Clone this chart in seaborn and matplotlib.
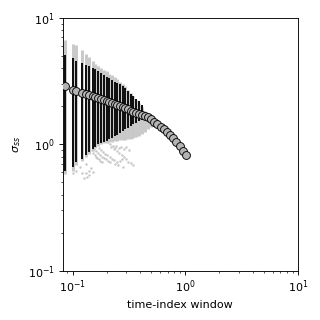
import numpy as np
import pandas as pd
import matplotlib
matplotlib.use("Agg")
import matplotlib.pyplot as plt
import seaborn as sns

# --- data ---
window = [0.0856, 0.1000, 0.1062, 0.1214, 0.1308, 0.1410, 0.1507, 0.1591, 0.1690, 0.1781,
          0.1893, 0.2000, 0.2124, 0.2244, 0.2369, 0.2501, 0.2642, 0.2790, 0.2946, 0.3112,
          0.3286, 0.3470, 0.3665, 0.3870, 0.4104, 0.4377, 0.4670, 0.4981, 0.5314, 0.5667,
          0.6046, 0.6450, 0.6881, 0.7340, 0.7830, 0.8355, 0.8913, 0.9508, 1.014]
sigma = [2.87, 2.71, 2.66, 2.56, 2.51, 2.46, 2.41, 2.37, 2.33, 2.30,
         2.25, 2.21, 2.16, 2.12, 2.08, 2.05, 2.01, 1.97, 1.93, 1.89,
         1.85, 1.81, 1.78, 1.74, 1.71, 1.67, 1.64, 1.59, 1.51, 1.44,
         1.38, 1.31, 1.25, 1.18, 1.12, 1.04, 0.97, 0.89, 0.83]

# black interval bars (first 25 windows)
bar_hi = [5.09, 4.79, 4.58, 4.42, 4.28, 4.16, 4.03, 3.93, 3.80, 3.66,
          3.53, 3.43, 3.33, 3.23, 3.14, 3.07, 2.98, 2.88, 2.77, 2.63,
          2.52, 2.40, 2.30, 2.20, 2.06]
bar_lo = [0.61, 0.66, 0.72, 0.77, 0.82, 0.87, 0.92, 0.95, 1.00, 1.03,
          1.05, 1.07, 1.10, 1.13, 1.16, 1.19, 1.23, 1.27, 1.31, 1.35,
          1.40, 1.44, 1.48, 1.52, 1.55]

# grey sample extent (first 29 windows)
grey_hi = [6.70, 6.25, 6.10, 5.57, 5.22, 4.90, 4.55, 4.33, 4.17, 4.04,
           3.89, 3.77, 3.63, 3.52, 3.40, 3.26, 3.14, 3.01, 2.87, 2.71,
           2.56, 2.41, 2.26, 2.12, 1.97, 1.83, 1.69, 1.56, 1.45]
grey_lo = [0.58, 0.62, 0.68, 0.74, 0.79, 0.84, 0.89, 0.93, 0.97, 1.00,
           1.02, 1.03, 1.04, 1.05, 1.06, 1.07, 1.08, 1.08, 1.09, 1.10,
           1.11, 1.12, 1.14, 1.17, 1.20, 1.26, 1.32, 1.38, 1.42]

# scattered low samples
out_x = [0.100, 0.106, 0.107, 0.117, 0.121, 0.126, 0.131, 0.131, 0.135, 0.141, 0.140, 0.151, 0.145,
         0.148, 0.152, 0.157, 0.160, 0.165, 0.170, 0.176, 0.182,
         0.155, 0.162, 0.168, 0.175, 0.182, 0.190, 0.198, 0.206, 0.214,
         0.170, 0.178, 0.186, 0.195, 0.204, 0.214, 0.224, 0.235,
         0.207, 0.216, 0.226, 0.237, 0.248, 0.260, 0.272, 0.285, 0.298, 0.312, 0.330, 0.343,
         0.240, 0.250, 0.262, 0.275, 0.252, 0.280,
         0.220, 0.232, 0.245, 0.258, 0.270, 0.285, 0.300, 0.315]
out_y = [0.59, 0.75, 0.62, 0.66, 0.59, 0.54, 0.70, 0.59, 0.55, 0.62, 0.57, 0.60, 0.65,
         0.90, 0.86, 0.83, 0.80, 0.78, 0.76, 0.74, 0.72,
         0.92, 0.88, 0.85, 0.82, 0.80, 0.78, 0.76, 0.74, 0.72,
         0.93, 0.90, 0.87, 0.84, 0.82, 0.79, 0.77, 0.75,
         1.05, 1.01, 0.97, 0.93, 0.89, 0.86, 0.82, 0.79, 0.76, 0.73, 0.71, 0.69,
         0.70, 0.72, 0.74, 0.76, 0.68, 0.66,
         0.95, 0.92, 0.97, 0.93, 0.95, 0.92, 0.95, 0.90]

main = pd.DataFrame({"window": window, "sigma": sigma})
outl = pd.DataFrame({"window": out_x, "sigma": out_y})

fig = plt.figure(figsize=(4, 4), dpi=80)
ax = fig.add_axes([0.196, 0.154, 0.735, 0.790])

GREY = "#c8c8c8"
nG = len(grey_hi)
ax.vlines(window[:nG], grey_lo, grey_hi, colors=GREY, linewidth=2.6, zorder=1)
sns.scatterplot(data=outl, x="window", y="sigma", ax=ax, color=GREY, s=5,
                linewidth=0, zorder=1, legend=False)
nB = len(bar_hi)
ax.vlines(window[:nB], bar_lo, bar_hi, colors="#111111", linewidth=1.8, zorder=2)
sns.scatterplot(data=main, x="window", y="sigma", ax=ax, s=50, color="#b4b4b4",
                edgecolor="black", linewidth=0.8, zorder=3, legend=False)

ax.set_xscale("log")
ax.set_yscale("log")
ax.set_xlim(0.0817, 10)
ax.set_ylim(0.1, 10)
ax.set_xlabel("time-index window")
ax.set_ylabel(r"$\sigma_{ss}$")

fig.savefig("out.png", dpi=80)
